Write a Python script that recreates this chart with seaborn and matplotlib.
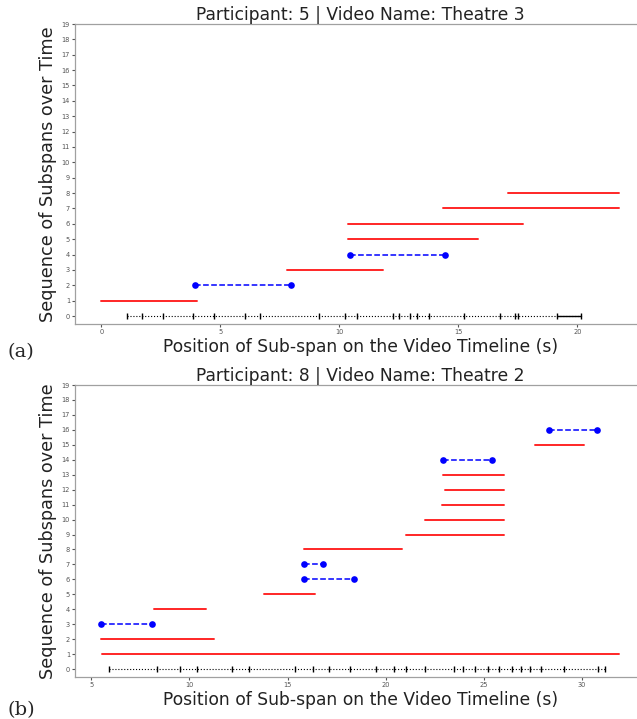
import pandas as pd
import seaborn as sns
import matplotlib.pyplot as plt

# panel (a): participant 5, Theatre 3
red_a_start = [0.0, 7.79, 10.38, 10.38, 14.36, 17.1]
red_a_end = [4.02, 11.85, 15.82, 17.71, 21.75, 21.75]
red_a_row = [1, 3, 5, 6, 7, 8]
blue_a_start = [3.94, 10.44]
blue_a_end = [7.97, 14.45]
blue_a_row = [2, 4]
timeline_a = [1.08, 1.69, 2.57, 3.87, 4.75, 6.05, 6.65, 9.14, 10.24, 10.75, 12.24,
              12.51, 12.95, 13.25, 13.75, 15.25, 16.74, 17.36, 17.5, 19.15, 20.16]
solid_a = [19.15, 20.16]

# panel (b): participant 8, Theatre 2
red_b_start = [5.53, 5.51, 8.17, 13.79, 15.82, 21.04, 22.0, 22.85, 23.05, 22.92, 27.63]
red_b_end = [31.9, 11.23, 10.83, 16.4, 20.84, 26.04, 26.04, 26.04, 26.04, 26.04, 30.09]
red_b_row = [1, 2, 4, 5, 8, 9, 10, 11, 12, 13, 15]
blue_b_start = [5.51, 15.86, 15.86, 22.94, 28.34]
blue_b_end = [8.11, 18.41, 16.82, 25.4, 30.8]
blue_b_row = [3, 6, 7, 14, 16]
timeline_b = [5.88, 8.34, 9.51, 10.37, 12.18, 13.04, 15.36, 16.28, 17.12, 18.18, 19.49,
              20.42, 21.05, 22.03, 23.46, 23.93, 24.57, 25.23, 25.78, 26.42, 26.88,
              27.37, 27.9, 29.09, 30.84, 31.19]

titles = ['Participant: 5 | Video Name: Theatre 3', 'Participant: 8 | Video Name: Theatre 2']


def segments(starts, ends, rows):
    recs = []
    for i, (s, e, r) in enumerate(zip(starts, ends, rows)):
        recs.append({'x': s, 'y': r, 'seg': i})
        recs.append({'x': e, 'y': r, 'seg': i})
    return pd.DataFrame(recs)


sns.set_style("white")
plt.rcParams.update({"axes.edgecolor": "#a0a0a0", "axes.linewidth": 0.9,
                     "xtick.color": "#555555", "ytick.color": "#555555",
                     "xtick.bottom": True, "ytick.left": True,
                     "xtick.major.size": 2.5, "ytick.major.size": 2.5,
                     "xtick.labelsize": 4.8, "ytick.labelsize": 4.8})

fig = plt.figure(figsize=(6.37, 7.19), dpi=100)
ax_a = fig.add_axes([0.1185, 0.5498, 0.894, 0.4168])
ax_b = fig.add_axes([0.1185, 0.0591, 0.894, 0.4054])

panels = [
    (ax_a, red_a_start, red_a_end, red_a_row, blue_a_start, blue_a_end, blue_a_row, timeline_a),
    (ax_b, red_b_start, red_b_end, red_b_row, blue_b_start, blue_b_end, blue_b_row, timeline_b),
]

for k, (ax, rs, re_, rr, bs, be, br, tl) in enumerate(panels):
    tl_df = pd.DataFrame({'x': tl, 'y': 0})
    sns.lineplot(data=tl_df, x='x', y='y', ax=ax, color='black', linestyle=':',
                 linewidth=0.8, marker='|', markersize=5, markeredgewidth=1.0,
                 markeredgecolor='black')
    sns.lineplot(data=segments(rs, re_, rr), x='x', y='y', units='seg', estimator=None,
                 ax=ax, color='red', alpha=0.85, linewidth=1.4)
    sns.lineplot(data=segments(bs, be, br), x='x', y='y', units='seg', estimator=None,
                 ax=ax, color='blue', linestyle='--', linewidth=1.1, marker='o',
                 markersize=4.8, markeredgewidth=0)
    ax.set_ylim(-0.5, 19)
    ax.set_yticks(range(20))
    ax.set_title(titles[k], fontsize=12.3, pad=3, color='#222222')
    ax.set_xlabel('Position of Sub-span on the Video Timeline (s)', fontsize=12.3,
                  labelpad=2, color='#222222')
    ax.set_ylabel('Sequence of Subspans over Time', fontsize=12.7, labelpad=3,
                  color='#222222')
    ax.tick_params(pad=1.5)

sns.lineplot(x=solid_a, y=[0, 0], ax=ax_a, color='black', linewidth=1.0)

fig.text(0.012, 1 - 357 / 719, '(a)', fontsize=14, family='DejaVu Serif')
fig.text(0.012, 1 - 715 / 719, '(b)', fontsize=14, family='DejaVu Serif')

fig.savefig('out.png', dpi=100)
